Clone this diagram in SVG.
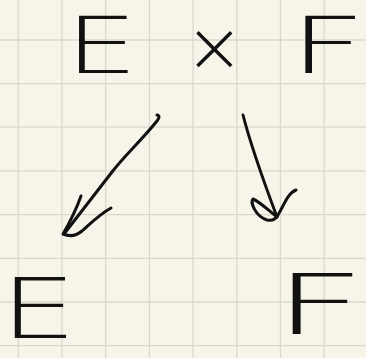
<svg xmlns="http://www.w3.org/2000/svg" width="366" height="358" viewBox="0 0 366 358">
<defs>
<style>
.bg{fill:#f7f5ea}
.grid line{stroke:#d9d8cc;stroke-width:1.3}
.t{font-family:"DejaVu Sans ExtraLight","DejaVu Sans","Liberation Sans",sans-serif;font-weight:200;fill:#111}
.ink{fill:none;stroke:#111;stroke-width:3;stroke-linecap:round;stroke-linejoin:round}
</style>
</defs>
<rect class="bg" x="0" y="0" width="366" height="358"/>
<g class="grid">
<line x1="18.3" y1="0" x2="18.3" y2="358"/>
<line x1="62" y1="0" x2="62" y2="358"/>
<line x1="105.7" y1="0" x2="105.7" y2="358"/>
<line x1="149.4" y1="0" x2="149.4" y2="358"/>
<line x1="193.1" y1="0" x2="193.1" y2="358"/>
<line x1="236.8" y1="0" x2="236.8" y2="358"/>
<line x1="280.5" y1="0" x2="280.5" y2="358"/>
<line x1="324.2" y1="0" x2="324.2" y2="358"/>
<line x1="0" y1="40" x2="366" y2="40"/>
<line x1="0" y1="83.6" x2="366" y2="83.6"/>
<line x1="0" y1="127.2" x2="366" y2="127.2"/>
<line x1="0" y1="170.8" x2="366" y2="170.8"/>
<line x1="0" y1="214.6" x2="366" y2="214.6"/>
<line x1="0" y1="258.3" x2="366" y2="258.3"/>
<line x1="0" y1="302" x2="366" y2="302"/>
<line x1="0" y1="345.7" x2="366" y2="345.7"/>
</g>
<g id="node-product">
<text class="t" transform="translate(65,73) scale(1.48,1)" font-size="78">E</text>
<text class="t" x="185" y="71" font-size="70">×</text>
<text class="t" transform="translate(289,73) scale(1.72,1)" font-size="78">F</text>
</g>
<g id="node-E">
<text class="t" transform="translate(0,338) scale(1.45,1)" font-size="84">E</text>
</g>
<g id="node-F">
<text class="t" transform="translate(273,334) scale(1.92,1)" font-size="84">F</text>
</g>
<g id="connectors">
<path class="ink" d="M157,115 Q161,116 157,121 C140,142 125,155 112,172 C98,190 84,208 64,234"/>
<path class="ink" d="M81,196 C76,210 70,222 63,234 C70,237 76,236 82,231 C92,222 100,214 111,208"/>
<path class="ink" d="M243,115 C252,150 265,185 277,217"/>
<path class="ink" d="M277,217 C268,210 260,202 253,199 C250,202 255,216 267,220 C272,221 276,219 278,215 C284,205 288,193 296,190"/>
</g>
</svg>
